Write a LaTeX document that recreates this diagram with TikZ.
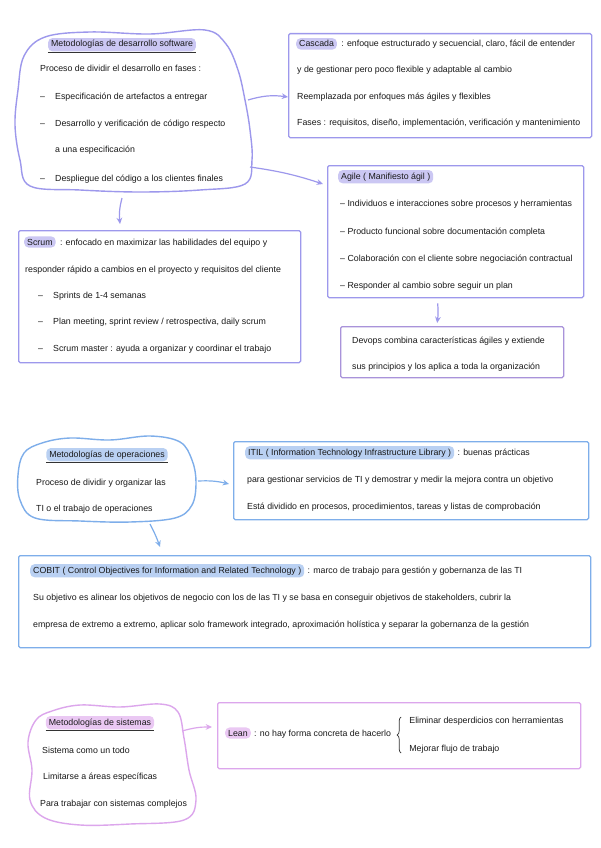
\documentclass[tikz,border=0pt]{standalone}
\usepackage{fontspec}
\setmainfont{Liberation Sans}
\usetikzlibrary{positioning,arrows.meta,calc,decorations.pathreplacing}

\definecolor{lav}{HTML}{9D98EC}
\definecolor{lavhl}{HTML}{CBC7F3}
\definecolor{plum}{HTML}{A993DA}
\definecolor{sky}{HTML}{7EAEEA}
\definecolor{skyhl}{HTML}{B9D0F2}
\definecolor{orchid}{HTML}{DCA6EC}
\definecolor{orchidhl}{HTML}{EAC8F3}

\begin{document}
\begin{tikzpicture}[x=1pt,y=-1pt,font=\fontsize{8.8}{10.5}\selectfont,
  frame/.style={draw=#1,line width=1.3pt,rounded corners=1.5pt,anchor=north west,inner sep=0pt},
  tx/.style={anchor=base west,inner sep=0pt,text=black!90},
  hl/.style={tx,fill=#1,rounded corners=4.5pt,inner xsep=3pt,inner ysep=2.5pt},
  blob/.style={draw=#1,line width=1.4pt},
  ul/.style={line width=0.6pt,black!80},
  ar/.style={-{Stealth[length=2.2mm,width=2mm]},line width=1.2pt,draw=#1}]
  \useasboundingbox[fill=white] (0,0) rectangle (600,848);

  % --- desarrollo software ---
  \draw[blob=lav] plot[smooth cycle,tension=0.6] coordinates {(45,37) (90,32) (150,34) (205,30) (226,44) (238,70) (245,100) (250,130) (252,160) (245,184) (200,190) (140,192) (80,190) (30,186) (20,160) (15,125) (18,90) (24,56)};
  \node[hl=lavhl,anchor=base] (sw0) at (122,47) {Metodologías de desarrollo software};
  \draw[ul] ($(sw0.south west)+(0,1)$) -- ($(sw0.south east)+(0,1)$);
  \node[tx] (sw1) at (40,72) {Proceso de dividir el desarrollo en fases :};
  \node[tx] (sw2) at ($(sw1.base west)+(0,28)$) {\makebox[15pt][l]{–}Especificación de artefactos a entregar};
  \node[tx] (sw3) at ($(sw2.base west)+(0,26)$) {\makebox[15pt][l]{–}Desarrollo y verificación de código respecto};
  \node[tx] (sw4) at ($(sw3.base west)+(15,27)$) {a una especificación};
  \node[tx] (sw5) at ($(sw4.base west)+(-15,28)$) {\makebox[15pt][l]{–}Despliegue del código a los clientes finales};
  \coordinate (swE) at (248,100);
  \coordinate (swSE) at (250,167);
  \coordinate (swS) at (122,198);

  \node[frame=lav,minimum width=303pt,minimum height=104pt] (cascada) at (288,33) {};
  \node[hl=lavhl] (cas0) at (296,47) {Cascada};
  \node[tx] (cas1) at ($(cas0.base east)+(4,0)$) {: enfoque estructurado y secuencial, claro, fácil de entender};
  \node[tx] (cas2) at ($(cas0.base west)+(1,26)$) {y de gestionar pero poco flexible y adaptable al cambio};
  \node[tx] (cas3) at ($(cas2.base west)+(0,27)$) {Reemplazada por enfoques más ágiles y flexibles};
  \node[tx] (cas4) at ($(cas3.base west)+(0,25)$) {Fases : requisitos, diseño, implementación, verificación y mantenimiento};

  \node[frame=lav,minimum width=256pt,minimum height=132pt] (agile) at (327,165) {};
  \node[hl=lavhl] (ag0) at (338,179) {Agile ( Manifiesto ágil )};
  \node[tx] (ag1) at ($(ag0.base west)+(2,27)$) {– Individuos e interacciones sobre procesos y herramientas};
  \node[tx] (ag2) at ($(ag1.base west)+(0,28)$) {– Producto funcional sobre documentación completa};
  \node[tx] (ag3) at ($(ag2.base west)+(0,27)$) {– Colaboración con el cliente sobre negociación contractual};
  \node[tx] (ag4) at ($(ag3.base west)+(0,27)$) {– Responder al cambio sobre seguir un plan};

  \node[frame=lav,minimum width=282pt,minimum height=132pt] (scrum) at (18,230) {};
  \node[hl=lavhl] (sc0) at (24,245) {Scrum};
  \node[tx] (sc1) at ($(sc0.base east)+(4,0)$) {: enfocado en maximizar las habilidades del equipo y};
  \node[tx] (sc2) at ($(sc0.base west)+(1,27)$) {responder rápido a cambios en el proyecto y requisitos del cliente};
  \node[tx] (sc3) at ($(sc2.base west)+(13,26)$) {\makebox[15pt][l]{–}Sprints de 1-4 semanas};
  \node[tx] (sc4) at ($(sc3.base west)+(0,26)$) {\makebox[15pt][l]{–}Plan meeting, sprint review / retrospectiva, daily scrum};
  \node[tx] (sc5) at ($(sc4.base west)+(0,27)$) {\makebox[15pt][l]{–}Scrum master : ayuda a organizar y coordinar el trabajo};

  \node[frame=plum,minimum width=223pt,minimum height=51pt] (devops) at (340,326) {};
  \node[tx] (dv1) at (352,343) {Devops combina características ágiles y extiende};
  \node[tx] (dv2) at ($(dv1.base west)+(0,26)$) {sus principios y los aplica a toda la organización};

  \draw[ar=lav] (swE) to[bend left=12] ($(cascada.north west)+(0,64)$);
  \draw[ar=lav] (swSE) to[bend left=5] ($(agile.north west)+(-4,19)$);
  \draw[ar=lav] (swS) to[bend right=10] ($(scrum.north west)+(102,-6)$);
  \draw[ar=lav] ($(agile.south)+(-18,5)$) to[bend left=6] ($(devops.north)+(-15,-3)$);

  % --- operaciones ---
  \draw[blob=sky] plot[smooth cycle,tension=0.6] coordinates {(42,443) (70,438) (110,440) (150,436) (180,442) (192,460) (196,482) (192,505) (175,518) (130,522) (80,521) (35,518) (20,500) (18,475) (24,453)};
  \node[hl=skyhl,anchor=base] (op0) at (107,457) {Metodologías de operaciones};
  \draw[ul] ($(op0.south west)+(0,1)$) -- ($(op0.south east)+(0,1)$);
  \node[tx] (op1) at (36,485) {Proceso de dividir y organizar las};
  \node[tx] (op2) at ($(op1.base west)+(0,26)$) {TI o el trabajo de operaciones};
  \coordinate (opE) at (198,481);
  \coordinate (opS) at (150,524);

  \node[frame=sky,minimum width=355pt,minimum height=78pt] (itil) at (233,441) {};
  \node[hl=skyhl] (it0) at (245,455) {ITIL ( Information Technology Infrastructure Library )};
  \node[tx] (it1) at ($(it0.base east)+(3,0)$) {: buenas prácticas};
  \node[tx] (it2) at ($(it0.base west)+(2,27)$) {para gestionar servicios de TI y demostrar y medir la mejora contra un objetivo};
  \node[tx] (it3) at ($(it2.base west)+(0,27)$) {Está dividido en procesos, procedimientos, tareas y listas de comprobación};

  \node[frame=sky,minimum width=572pt,minimum height=92pt] (cobit) at (18,555) {};
  \node[hl=skyhl] (cb0) at (30,573) {COBIT ( Control Objectives for Information and Related Technology )};
  \node[tx] (cb1) at ($(cb0.base east)+(3,0)$) {: marco de trabajo para gestión y gobernanza de las TI};
  \node[tx] (cb2) at ($(cb0.base west)+(3,27)$) {Su objetivo es alinear los objetivos de negocio con los de las TI y se basa en conseguir objetivos de stakeholders, cubrir la};
  \node[tx] (cb3) at ($(cb2.base west)+(0,27)$) {empresa de extremo a extremo, aplicar solo framework integrado, aproximación holística y separar la gobernanza de la gestión};

  \draw[ar=sky] (opE) to[bend left=8] ($(itil.north west)+(-4,43)$);
  \draw[ar=sky] (opS) to[bend left=4] ($(cobit.north west)+(142,-8)$);

  % --- sistemas ---
  \draw[blob=orchid] plot[smooth cycle,tension=0.6] coordinates {(52,711) (80,705) (120,707) (160,704) (178,712) (184,738) (189,770) (196,800) (184,820) (130,824) (80,825) (45,818) (30,800) (32,770) (28,742) (36,720)};
  \node[hl=orchidhl,anchor=base] (sy0) at (100,725) {Metodologías de sistemas};
  \draw[ul] ($(sy0.south west)+(0,1)$) -- ($(sy0.south east)+(0,1)$);
  \node[tx] (sy1) at (42,753) {Sistema como un todo};
  \node[tx] (sy2) at ($(sy1.base west)+(1,26)$) {Limitarse a áreas específicas};
  \node[tx] (sy3) at ($(sy2.base west)+(-3,27)$) {Para trabajar con sistemas complejos};
  \coordinate (syE) at (182,731);

  \node[frame=orchid,minimum width=363pt,minimum height=66pt] (lean) at (217,702) {};
  \node[hl=orchidhl] (ln0) at (225,736) {Lean};
  \node[tx] (ln1) at ($(ln0.base east)+(3,0)$) {: no hay forma concreta de hacerlo};
  \draw[line width=0.7pt,black!80,decorate,decoration={brace,amplitude=4pt}] ($(ln1.base east)+(10,17)$) -- ($(ln1.base east)+(10,-19)$);
  \node[tx] (ln2) at ($(ln1.base east)+(18,-13)$) {Eliminar desperdicios con herramientas};
  \node[tx] (ln3) at ($(ln2.base west)+(0,28)$) {Mejorar flujo de trabajo};

  \draw[ar=orchid] (syE) to[bend left=8] ($(lean.north west)+(-5,25)$);
\end{tikzpicture}
\end{document}
